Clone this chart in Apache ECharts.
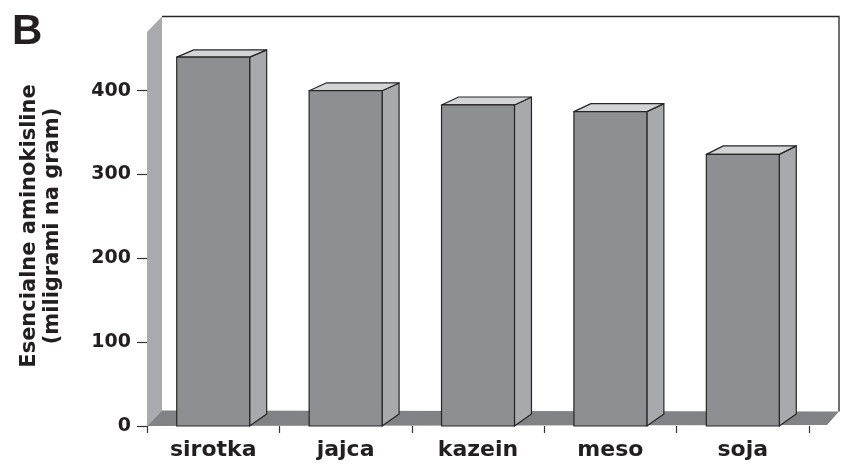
<!DOCTYPE html>
<html>
<head>
<meta charset="utf-8">
<script src="https://cdn.jsdelivr.net/npm/echarts@6/dist/echarts.min.js"></script>
<style>
  html, body { margin: 0; padding: 0; background: #ffffff; }
  #chart { width: 846px; height: 469px; }
</style>
</head>
<body>
<div id="chart"></div>
<script>
// Essential amino acids per protein source (mg per gram)
const categories = ['sirotka', 'jajca', 'kazein', 'meso', 'soja'];
const aminoValues = [440, 400, 383, 375, 324];
const valueTicks = [0, 100, 200, 300, 400];
const wallTopValue = 470;

const FACE = '#8e8f93';
const SIDE = '#a8a9ad';
const TOP = '#d3d4d6';
const WALL = '#a9aaae';
const FLOOR = '#818286';
const EDGE = '#262626';
const INK = '#231f20';
const FONT = 'DejaVu Sans';

const chart = echarts.init(document.getElementById('chart'), null, { renderer: 'canvas' });

// Left wall, floor and back-wall outline of the 3D box
function renderRoom(params, api) {
  const cs = params.coordSys;
  const left = cs.x;
  const right = cs.x + cs.width;
  const base = api.coord([0, 0])[1];
  const top = api.coord([0, wallTopValue])[1];
  const wx = 15, wy = 15.5;
  const floorRight = right + 18;
  const backRight = right + 30;
  return {
    type: 'group',
    children: [
      { type: 'polygon', shape: { points: [[left, top], [left + wx, top - wy], [left + wx, base - wy], [left, base]] },
        style: { fill: WALL } },
      { type: 'polygon', shape: { points: [[left, base], [left + wx, base - wy], [backRight, base - wy + 1], [floorRight, base - 1]] },
        style: { fill: FLOOR } },
      { type: 'polyline', shape: { points: [[left + wx, top - wy], [backRight, top - wy], [backRight, base - wy + 1]] },
        style: { stroke: EDGE, lineWidth: 1.3, fill: null } }
    ]
  };
}

// One 3D column: front face, right side, top face
function renderBar(params, api) {
  const idx = api.value(0);
  const v = api.value(1);
  const topPt = api.coord([idx, v]);
  const basePt = api.coord([idx, 0]);
  const wallPx = api.coord([idx, wallTopValue])[1];
  const band = api.size([1, 0])[0];
  const w = band * 0.551;
  const x0 = topPt[0] - w / 2;
  const x1 = topPt[0] + w / 2;
  const yT = topPt[1];
  const yB = basePt[1];
  const dx = 17;
  const dyAt = (y) => -(12 - 5 * (yB - y) / (yB - wallPx));
  const dyT = dyAt(yT);
  const dyB = dyAt(yB);
  const stroke = { stroke: EDGE, lineWidth: 1.2, lineJoin: 'round' };
  return {
    type: 'group',
    children: [
      { type: 'polygon', shape: { points: [[x1, yT], [x1 + dx, yT + dyT], [x1 + dx, yB + dyB], [x1, yB]] },
        style: Object.assign({ fill: SIDE }, stroke) },
      { type: 'polygon', shape: { points: [[x0, yT], [x0 + dx, yT + dyT], [x1 + dx, yT + dyT], [x1, yT]] },
        style: Object.assign({ fill: TOP }, stroke) },
      { type: 'rect', shape: { x: x0, y: yT, width: w, height: yB - yT },
        style: Object.assign({ fill: FACE }, stroke) }
    ]
  };
}

chart.setOption({
  animation: false,
  backgroundColor: '#ffffff',
  grid: { left: 147, right: 37, top: 90.7, bottom: 43, containLabel: false },
  xAxis: {
    type: 'category',
    data: categories,
    boundaryGap: true,
    axisLine: { show: false },
    axisTick: { show: true, length: 7, lineStyle: { color: '#333333', width: 1.2 } },
    axisLabel: { margin: 13, fontFamily: FONT, fontWeight: 'bold', fontSize: 22, color: INK }
  },
  yAxis: {
    type: 'value',
    min: valueTicks[0],
    max: valueTicks[valueTicks.length - 1],
    interval: 100,
    axisLine: { show: false },
    axisTick: { show: true, length: 10, lineStyle: { color: '#333333', width: 1.2 } },
    splitLine: { show: false },
    axisLabel: { margin: 16, fontFamily: FONT, fontWeight: 'bold', fontSize: 19, color: INK }
  },
  graphic: [
    { type: 'text', left: 12, top: 11,
      style: { text: 'B', font: 'bold 42px "Liberation Sans"', fill: INK } },
    { type: 'text', x: 41, y: 226, rotation: Math.PI / 2,
      style: { text: 'Esencialne aminokisline\n(miligrami na gram)', font: 'bold 21px "DejaVu Sans"',
               lineHeight: 23, fill: INK, align: 'center', verticalAlign: 'middle' } }
  ],
  series: [
    { type: 'custom', silent: true, z: 1, clip: false, data: [[0, 0]], encode: { x: 0, y: 1 }, renderItem: renderRoom },
    { type: 'custom', silent: true, z: 2, clip: false,
      data: aminoValues.map((v, i) => [i, v]), encode: { x: 0, y: 1 }, renderItem: renderBar }
  ]
});
</script>
</body>
</html>
